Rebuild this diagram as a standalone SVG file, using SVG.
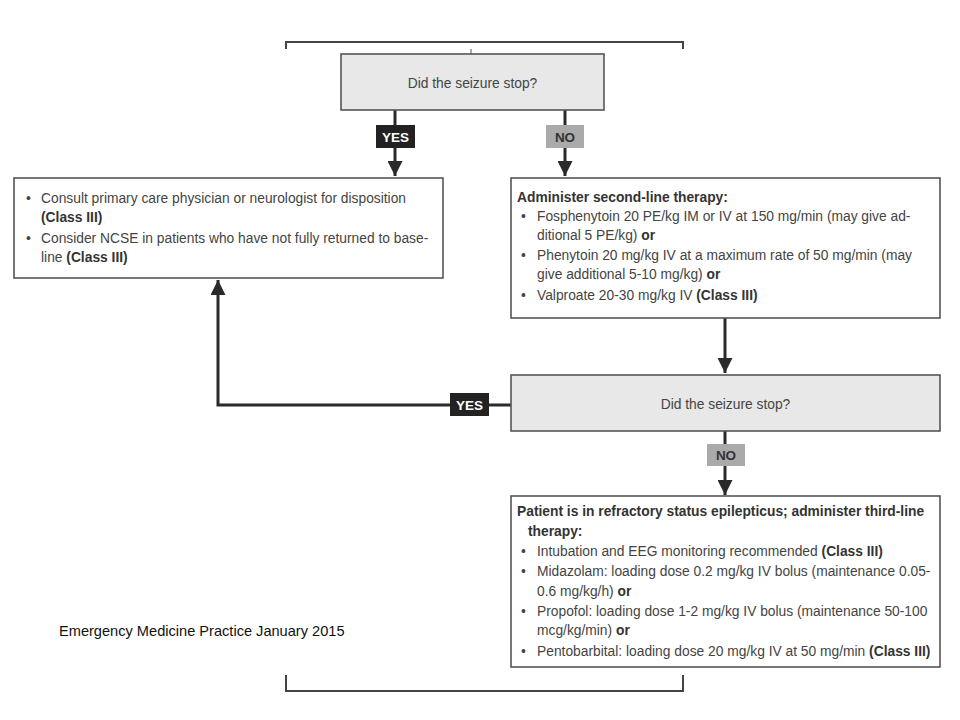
<svg xmlns="http://www.w3.org/2000/svg" width="960" height="720" viewBox="0 0 960 720">
<style>
.box{fill:#fff;stroke:#555;stroke-width:1.6}
.dec{fill:#e8e8e8;stroke:#555;stroke-width:1.6}
.t{font-family:"Liberation Sans",Arial,sans-serif;font-size:13.8px;fill:#444}
.b{font-weight:bold;fill:#333}
.q{font-family:"Liberation Sans",Arial,sans-serif;font-size:13.8px;fill:#444;text-anchor:middle}
.lbl{font-family:"Liberation Sans",Arial,sans-serif;font-size:13.5px;font-weight:bold;text-anchor:middle}
.ln{fill:none;stroke:#2a2a2a;stroke-width:3}
.br{fill:none;stroke:#444;stroke-width:2}
.foot{font-family:"Liberation Sans",Arial,sans-serif;font-size:14.6px;fill:#111}
</style>
<defs>
<marker id="ah" viewBox="0 0 10 10" refX="10" refY="5" markerWidth="5.5" markerHeight="5" markerUnits="strokeWidth" orient="auto">
<path d="M0,0 L10,5 L0,10 z" fill="#2a2a2a"/>
</marker>
</defs>
<rect width="960" height="720" fill="#fff"/>
<g id="brackets">
<path class="br" d="M286,49 V42 H683 V49"/>
<path d="M471,49 V54" stroke="#555" stroke-width="1" fill="none"/>
<path class="br" d="M286,675 V691 H683 V675"/>
</g>
<g id="connectors">
<path class="ln" d="M395,110 V176" marker-end="url(#ah)"/>
<path class="ln" d="M565,110 V176" marker-end="url(#ah)"/>
<path class="ln" d="M725,318 V373" marker-end="url(#ah)"/>
<path class="ln" d="M511,405 H218 V280" marker-end="url(#ah)"/>
<path class="ln" d="M725,431 V495" marker-end="url(#ah)"/>
<g id="lbl-yes1"><rect x="376" y="125" width="39" height="23" fill="#222"/><text class="lbl" x="395.5" y="141.5" fill="#fff">YES</text></g>
<g id="lbl-no1"><rect x="546" y="125" width="38" height="23" fill="#aaa"/><text class="lbl" x="565" y="141.5" fill="#333">NO</text></g>
<g id="lbl-yes2"><rect x="450" y="393" width="39" height="23" fill="#222"/><text class="lbl" x="469.5" y="409.5" fill="#fff">YES</text></g>
<g id="lbl-no2"><rect x="707" y="444" width="38" height="22" fill="#aaa"/><text class="lbl" x="726" y="460" fill="#333">NO</text></g>
</g>
<g id="q1">
<rect class="dec" x="341" y="54" width="263" height="56"/>
<text class="q" x="472.5" y="88">Did the seizure stop?</text>
</g>
<g id="disposition">
<rect class="box" x="14" y="178" width="429" height="100"/>
<text class="t" x="26" y="203">•</text>
<text class="t" x="41" y="203">Consult primary care physician or neurologist for disposition</text>
<text class="t b" x="41" y="222">(Class III)</text>
<text class="t" x="26" y="243">•</text>
<text class="t" x="41" y="243">Consider NCSE in patients who have not fully returned to base-</text>
<text class="t" x="41" y="262">line <tspan class="b">(Class III)</tspan></text>
</g>
<g id="second-line">
<rect class="box" x="511" y="178" width="429" height="140"/>
<text class="t b" x="517" y="202">Administer second-line therapy:</text>
<text class="t" x="521" y="221">•</text>
<text class="t" x="537" y="221">Fosphenytoin 20 PE/kg IM or IV at 150 mg/min (may give ad-</text>
<text class="t" x="537" y="240">ditional 5 PE/kg) <tspan class="b">or</tspan></text>
<text class="t" x="521" y="260">•</text>
<text class="t" x="537" y="260">Phenytoin 20 mg/kg IV at a maximum rate of 50 mg/min (may</text>
<text class="t" x="537" y="279">give additional 5-10 mg/kg) <tspan class="b">or</tspan></text>
<text class="t" x="521" y="300">•</text>
<text class="t" x="537" y="300">Valproate 20-30 mg/kg IV <tspan class="b">(Class III)</tspan></text>
</g>
<g id="q2">
<rect class="dec" x="511" y="375" width="429" height="56"/>
<text class="q" x="725.5" y="409">Did the seizure stop?</text>
</g>
<g id="third-line">
<rect class="box" x="511" y="496" width="429" height="171"/>
<text class="t b" x="517" y="516">Patient is in refractory status epilepticus; administer third-line</text>
<text class="t b" x="528" y="536">therapy:</text>
<text class="t" x="521" y="556">•</text>
<text class="t" x="537" y="556">Intubation and EEG monitoring recommended <tspan class="b">(Class III)</tspan></text>
<text class="t" x="521" y="576">•</text>
<text class="t" x="537" y="576">Midazolam: loading dose 0.2 mg/kg IV bolus (maintenance 0.05-</text>
<text class="t" x="537" y="596">0.6 mg/kg/h) <tspan class="b">or</tspan></text>
<text class="t" x="521" y="616">•</text>
<text class="t" x="537" y="616">Propofol: loading dose 1-2 mg/kg IV bolus (maintenance 50-100</text>
<text class="t" x="537" y="635">mcg/kg/min) <tspan class="b">or</tspan></text>
<text class="t" x="521" y="656">•</text>
<text class="t" x="537" y="656">Pentobarbital: loading dose 20 mg/kg IV at 50 mg/min <tspan class="b">(Class III)</tspan></text>
</g>
<text class="foot" x="59" y="636">Emergency Medicine Practice January 2015</text>
</svg>
